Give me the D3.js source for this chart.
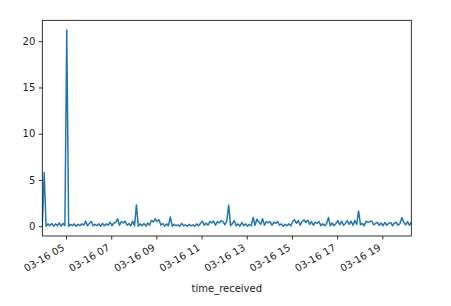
<!DOCTYPE html>
<html>
<head>
<meta charset="utf-8">
<script src="https://cdn.jsdelivr.net/npm/d3@7/dist/d3.min.js"></script>
<style>
  html, body { margin: 0; padding: 0; background: #fff; }
  svg { display: block; font-family: "DejaVu Sans", sans-serif; }
</style>
</head>
<body>
<svg id="chart" width="451" height="306"></svg>
<script>
// ---- data ----
const startTime = "2021-03-16T03:57:00";
const stepMinutes = 5;
const values = [
  0.05, 5.8, 0.0, 0.25, 0.05, 0.3, 0.0, 0.25, 0.05, 0.35,
  0.0, 0.3, 0.05, 21.2, 0.0, 0.2, 0.05, 0.25, 0.0, 0.2,
  0.05, 0.25, 0.1, 0.55, 0.05, 0.3, 0.5, 0.05, 0.2, 0.05,
  0.25, 0.0, 0.3, 0.05, 0.25, 0.1, 0.45, 0.05, 0.35, 0.4,
  0.8, 0.1, 0.5, 0.35, 0.55, 0.1, 0.3, 0.05, 0.55, 0.05,
  2.3, 0.0, 0.25, 0.05, 0.3, 0.0, 0.35, 0.1, 0.65, 0.45,
  0.8, 0.5, 0.7, 0.1, 0.3, 0.0, 0.25, 0.05, 1.0, 0.0,
  0.2, 0.05, 0.15, 0.0, 0.3, 0.05, 0.15, 0.0, 0.2, 0.05,
  0.15, 0.0, 0.25, 0.05, 0.3, 0.55, 0.1, 0.35, 0.1, 0.5,
  0.35, 0.55, 0.1, 0.5, 0.35, 0.6, 0.5, 0.15, 0.55, 2.3,
  0.05, 0.3, 0.6, 0.05, 0.25, 0.0, 0.4, 0.05, 0.25, 0.0,
  0.2, 0.05, 0.95, 0.1, 0.75, 0.45, 0.2, 0.8, 0.1, 0.5,
  0.35, 0.5, 0.1, 0.45, 0.3, 0.5, 0.1, 0.25, 0.0, 0.2,
  0.05, 0.25, 0.05, 0.5, 0.7, 0.3, 0.6, 0.1, 0.5, 0.7,
  0.4, 0.65, 0.2, 0.5, 0.1, 0.45, 0.3, 0.5, 0.05, 0.25,
  0.05, 0.3, 0.95, 0.05, 0.35, 0.05, 0.3, 0.6, 0.15, 0.55,
  0.1, 0.3, 0.6, 0.2, 0.55, 0.1, 0.6, 0.2, 1.65, 0.15,
  0.3, 0.05, 0.55, 0.4, 0.5, 0.55, 0.15, 0.3, 0.4, 0.1,
  0.35, 0.05, 0.4, 0.1, 0.3, 0.4, 0.05, 0.35, 0.4, 0.1,
  0.3, 0.95, 0.4, 0.15, 0.5, 0.1, 0.45
];
const yTicks = [0, 5, 10, 15, 20];
const xTickLabels = ["03-16 05", "03-16 07", "03-16 09", "03-16 11", "03-16 13", "03-16 15", "03-16 17", "03-16 19"];
const xTickTimes = ["2021-03-16T05:00:00", "2021-03-16T07:00:00", "2021-03-16T09:00:00", "2021-03-16T11:00:00",
                    "2021-03-16T13:00:00", "2021-03-16T15:00:00", "2021-03-16T17:00:00", "2021-03-16T19:00:00"];
const xLabel = "time_received";

(function () {
  // ---- build series ----
  const t0 = new Date(startTime);
  const data = values.map((v, i) => ({ t: new Date(t0.getTime() + i * stepMinutes * 60000), v }));

  // ---- layout ----
  const mLeft = 42.3, mRight = 411.3, mTop = 20.3, mBottom = 236;
  const svg = d3.select("#chart");

  const x = d3.scaleTime()
    .domain(d3.extent(data, d => d.t))
    .range([mLeft, mRight]);
  const vmax = d3.max(values);
  const pad = vmax * 0.05;
  const y = d3.scaleLinear()
    .domain([0 - pad, vmax + pad])
    .range([mBottom, mTop]);

  svg.append("rect").attr("width", 451).attr("height", 306).attr("fill", "#fff");

  svg.append("clipPath").attr("id", "clip")
    .append("rect").attr("x", mLeft).attr("y", mTop).attr("width", mRight - mLeft).attr("height", mBottom - mTop);

  const line = d3.line().x(d => x(d.t)).y(d => y(d.v));
  svg.append("path")
    .datum(data)
    .attr("clip-path", "url(#clip)")
    .attr("d", line)
    .attr("fill", "none")
    .attr("stroke", "#1f77b4")
    .attr("stroke-width", 1.5)
    .attr("stroke-linejoin", "round");

  // ---- axes ----
  const yAxis = d3.axisLeft(y).tickValues(yTicks).tickSize(3.5).tickPadding(3.5).tickFormat(d3.format("d"));
  const gy = svg.append("g").attr("transform", `translate(${mLeft},0)`).call(yAxis);
  gy.select(".domain").remove();
  gy.selectAll(".tick line").attr("stroke", "#000").attr("stroke-width", 0.8);
  gy.selectAll(".tick text").attr("font-size", 10).attr("fill", "#222").attr("font-family", "DejaVu Sans");

  const tickDates = xTickTimes.map(s => new Date(s));
  const xAxis = d3.axisBottom(x).tickValues(tickDates).tickSize(3.5)
    .tickFormat((d, i) => xTickLabels[i]);
  const gx = svg.append("g").attr("transform", `translate(0,${mBottom})`).call(xAxis);
  gx.select(".domain").remove();
  gx.selectAll(".tick line").attr("stroke", "#000").attr("stroke-width", 0.8);
  gx.selectAll(".tick text")
    .attr("font-size", 10).attr("fill", "#222").attr("font-family", "DejaVu Sans")
    .attr("text-anchor", "end")
    .attr("y", null).attr("dy", null)
    .attr("transform", "translate(-1.2,13.6) rotate(-30)");

  // ---- frame ----
  svg.append("rect")
    .attr("x", mLeft).attr("y", mTop).attr("width", mRight - mLeft).attr("height", mBottom - mTop)
    .attr("fill", "none").attr("stroke", "#000").attr("stroke-width", 0.8);

  svg.append("text")
    .attr("x", (mLeft + mRight) / 2).attr("y", 291.5)
    .attr("text-anchor", "middle")
    .attr("font-size", 10).attr("fill", "#222")
    .text(xLabel);
})();
</script>
</body>
</html>
